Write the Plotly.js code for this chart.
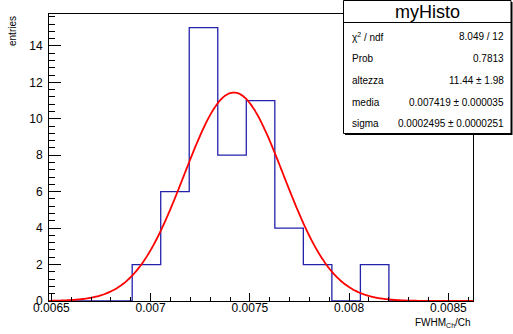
<!DOCTYPE html>
<html>
<head>
<meta charset="utf-8">
<script src="https://cdn.plot.ly/plotly-3.0.1.min.js"></script>
<style>html,body{margin:0;padding:0;background:#fff;}#chart{width:513px;height:334px;}</style>
</head>
<body>
<div id="chart"></div>
<script>
// ---- data ----
const histName = "myHisto";
const binLow = 0.006476;
const binWidth = 0.0001437;
const counts = [0, 0, 0, 2, 6, 15, 8, 11, 4, 2, 0, 2, 0, 0, 0];
const fitAmplitude = 11.44;
const fitMean = 0.007419;
const fitSigma = 0.0002495;
const statLabels = ["χ<sup>2</sup> / ndf", "Prob", "altezza", "media", "sigma"];
const statValues = ["8.049 / 12", "0.7813", "11.44 ± 1.98", "0.007419 ± 0.000035", "0.0002495 ± 0.0000251"];
const xTitle = "FWHM<sub>Ch</sub>/Ch";
const yTitle = "entries";
const xRange = [0.006488, 0.008624];
const yRange = [0, 15.75];

// ---- histogram outline ----
const hx = [binLow], hy = [0];
counts.forEach((c, i) => {
  const l = binLow + i * binWidth, r = l + binWidth;
  hx.push(l, r); hy.push(c, c);
});
hx.push(binLow + counts.length * binWidth); hy.push(0);

// ---- fitted gaussian (from fit parameters) ----
const fx = [], fy = [];
const N = 300;
for (let i = 0; i <= N; i++) {
  const x = xRange[0] + (xRange[1] - xRange[0]) * i / N;
  fx.push(x);
  fy.push(fitAmplitude * Math.exp(-0.5 * Math.pow((x - fitMean) / fitSigma, 2)));
}

// ---- layout helpers (pixel -> paper) ----
const L = 49, R = 473, T = 14, B = 301;
const px = p => (p - L) / (R - L);
const py = p => (B - p) / (B - T);
const FONT = "Liberation Sans, Arial, Helvetica, sans-serif";

const shapes = [
  {type: 'rect', xref: 'paper', yref: 'paper', x0: px(345), x1: px(512.5), y0: py(2), y1: py(135),
   fillcolor: '#000', line: {width: 0}, layer: 'above'},
  {type: 'rect', xref: 'paper', yref: 'paper', x0: px(343.5), x1: px(511), y0: py(0.5), y1: py(133.5),
   fillcolor: '#fff', line: {color: '#000', width: 1}, layer: 'above'},
  {type: 'line', xref: 'paper', yref: 'paper', x0: px(343.5), x1: px(511), y0: py(22.5), y1: py(22.5),
   line: {color: '#000', width: 1}, layer: 'above'}
];

const annotations = [
  {xref: 'paper', yref: 'paper', x: px(427), y: py(12), text: histName, showarrow: false,
   xanchor: 'center', yanchor: 'middle', font: {family: FONT, size: 18, color: '#000'}},
  {xref: 'paper', yref: 'paper', x: px(12), y: py(14), text: yTitle, showarrow: false, textangle: -90,
   xanchor: 'center', yanchor: 'top', font: {family: FONT, size: 10, color: '#000'}},
  {xref: 'paper', yref: 'paper', x: px(473), y: py(323), text: xTitle, showarrow: false,
   xanchor: 'right', yanchor: 'middle', font: {family: FONT, size: 10, color: '#000'}}
];
const rowY = [36.5, 58.5, 80.5, 102.5, 124];
statLabels.forEach((t, i) => {
  annotations.push({xref: 'paper', yref: 'paper', x: px(350), y: py(rowY[i]), text: t, showarrow: false,
    xanchor: 'left', yanchor: 'middle', font: {family: FONT, size: 10, color: '#000'}});
  annotations.push({xref: 'paper', yref: 'paper', x: px(506), y: py(rowY[i]), text: statValues[i], showarrow: false,
    xanchor: 'right', yanchor: 'middle', font: {family: FONT, size: 10, color: '#000'}});
});

const data = [
  {x: hx, y: hy, type: 'scatter', mode: 'lines', line: {color: '#2222aa', width: 1.3, shape: 'linear'},
   hoverinfo: 'skip', showlegend: false},
  {x: fx, y: fy, type: 'scatter', mode: 'lines', line: {color: '#ff0000', width: 1.8, shape: 'spline'},
   hoverinfo: 'skip', showlegend: false}
];

const layout = {
  width: 513, height: 334,
  margin: {l: L, r: 513 - R, t: T, b: 334 - B, pad: 0},
  paper_bgcolor: '#fff', plot_bgcolor: '#fff',
  font: {family: FONT, size: 12, color: '#000'},
  showlegend: false,
  xaxis: {
    range: xRange, tick0: 0.0065, dtick: 0.0005, tickmode: 'linear',
    ticks: 'inside', ticklen: 8, tickwidth: 1, tickcolor: '#000',
    minor: {tick0: 0.0065, dtick: 0.0001, ticks: 'inside', ticklen: 4, tickcolor: '#000', showgrid: false},
    showgrid: false, zeroline: false, showline: true, linecolor: '#000', linewidth: 1, mirror: true,
    tickfont: {family: FONT, size: 12, color: '#000'}, ticklabelstandoff: -4
  },
  yaxis: {
    range: yRange, tick0: 0, dtick: 2, tickmode: 'linear',
    ticks: 'inside', ticklen: 12, tickwidth: 1, tickcolor: '#000',
    minor: {tick0: 0, dtick: 0.4, ticks: 'inside', ticklen: 6, tickcolor: '#000', showgrid: false},
    showgrid: false, zeroline: false, showline: true, linecolor: '#000', linewidth: 1, mirror: true,
    tickfont: {family: FONT, size: 12, color: '#000'}, ticklabelstandoff: 3
  },
  shapes: shapes,
  annotations: annotations
};

Plotly.newPlot('chart', data, layout, {displayModeBar: false, staticPlot: true});
</script>
</body>
</html>
